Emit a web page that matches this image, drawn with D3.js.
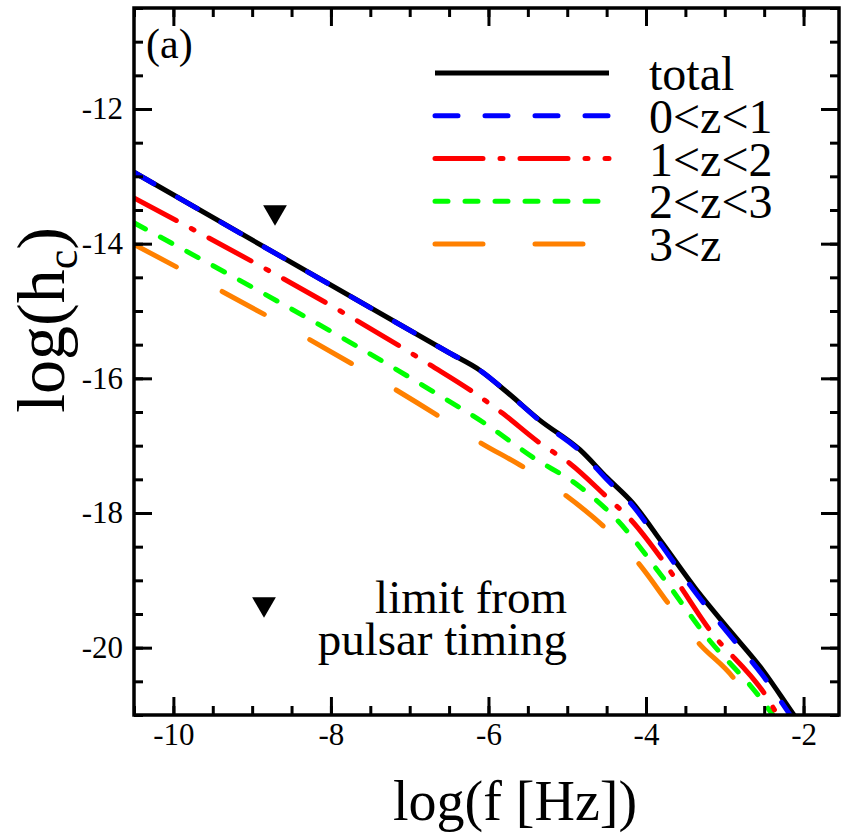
<!DOCTYPE html>
<html>
<head>
<meta charset="utf-8">
<script src="https://cdn.jsdelivr.net/npm/d3@7"></script>
<style>
  html, body { margin: 0; padding: 0; background: #fff; }
  svg { display: block; }
  text { font-family: "Liberation Serif", "Times New Roman", serif; fill: #000; }
</style>
</head>
<body>
<svg id="chart" width="842" height="838"></svg>
<script>
// ---------------- data ----------------
const seriesNames = ["total", "0<z<1", "1<z<2", "2<z<3", "3<z"];

const logfTotal = [-10.5, -6.5, -6.11, -5.77, -5.35, -4.84, -4.50, -4.17, -3.79, -3.36, -2.94, -2.52, -2.14, -2.05];
const loghTotal = [-12.94, -15.62, -15.88, -16.20, -16.62, -17.06, -17.47, -17.85, -18.45, -19.14, -19.74, -20.33, -20.97, -21.12];

const logfZ01 = [-10.5, -6.5, -6.11, -5.77, -5.35, -4.84, -4.50, -4.17, -3.79, -3.36, -2.94, -2.52, -2.14, -2.05];
const loghZ01 = [-12.94, -15.62, -15.88, -16.20, -16.63, -17.08, -17.50, -17.89, -18.50, -19.20, -19.81, -20.41, -21.05, -21.2];

const logfZ12 = [-10.5, -6.74, -6.20, -5.82, -5.35, -4.97, -4.50, -4.17, -3.79, -3.19, -2.47, -2.33, -2.25];
const loghZ12 = [-13.32, -15.80, -16.20, -16.52, -16.96, -17.26, -17.76, -18.13, -18.70, -19.74, -20.73, -21.0, -21.15];

const logfZ23 = [-10.5, -6.74, -6.02, -5.44, -4.84, -4.37, -3.79, -3.23, -2.56, -2.39, -2.3];
const loghZ23 = [-13.69, -16.17, -16.69, -17.17, -17.61, -18.10, -18.95, -19.84, -20.73, -21.0, -21.15];

const logfZ3 = [-10.5, -6.62, -6.11, -5.54, -5.03, -4.52, -4.10, -3.70, -3.34, -2.87, -2.59, -2.5];
const loghZ3 = [-14.01, -16.57, -16.95, -17.33, -17.73, -18.22, -18.74, -19.37, -19.92, -20.48, -21.0, -21.15];

// pulsar timing limit (triangle marker)
const pulsarLogf = [-8.71];
const pulsarLogh = [-13.53];

// axes
const xDomain = [-10.5, -1.55];
const yDomain = [-21, -10.5];
const xMajorTicks = [-10, -8, -6, -4, -2];
const yMajorTicks = [-20, -18, -16, -14, -12];
const xMinorTicks = d3.range(-10.5, -1.5, 0.5);
const yMinorTicks = d3.range(-21, -10.4, 0.5);

// ---------------- layout ----------------
const svg = d3.select("#chart");
const L = 134, R = 839, T = 8, B = 715;
const x = d3.scaleLinear().domain(xDomain).range([L, R]);
const y = d3.scaleLinear().domain(yDomain).range([B, T]);

const styles = [
  { color: "#000000", dash: null },
  { color: "#0000ff", dash: "23,27" },
  { color: "#ff0000", dash: "48,17,3,17" },
  { color: "#00ff00", dash: "13,17" },
  { color: "#ff8000", dash: "48,52" }
];

const seriesData = [
  d3.zip(logfTotal, loghTotal),
  d3.zip(logfZ01, loghZ01),
  d3.zip(logfZ12, loghZ12),
  d3.zip(logfZ23, loghZ23),
  d3.zip(logfZ3, loghZ3)
];

svg.append("defs").append("clipPath").attr("id", "clip")
  .append("rect").attr("x", L).attr("y", T).attr("width", R - L).attr("height", B - T);

const line = d3.line().x(d => x(d[0])).y(d => y(d[1])).curve(d3.curveMonotoneX);

const plot = svg.append("g").attr("clip-path", "url(#clip)");
// draw in order: orange, green, red, total, blue
[4, 3, 2, 0, 1].forEach(i => {
  plot.append("path")
    .datum(seriesData[i])
    .attr("d", line)
    .attr("fill", "none")
    .attr("stroke", styles[i].color)
    .attr("stroke-width", 5)
    .attr("stroke-linecap", styles[i].dash ? "round" : "butt")
    .attr("stroke-linejoin", "round")
    .attr("stroke-dasharray", styles[i].dash);
});

// triangle marker
const tri = d3.symbol().type(d3.symbolTriangle).size(245);
svg.selectAll(".pulsar").data(d3.zip(pulsarLogf, pulsarLogh)).join("path")
  .attr("class", "pulsar")
  .attr("d", tri)
  .attr("transform", d => `translate(${x(d[0])},${y(d[1])}) rotate(180)`)
  .attr("fill", "#000");

// ---------------- axes ----------------
function styleAxis(g) {
  g.attr("font-family", null);
  g.select(".domain").remove();
  g.selectAll(".tick line").attr("stroke", "#000").attr("stroke-width", 3);
  g.selectAll("text").style("font-family", '"Liberation Serif", serif').style("font-size", "31px").attr("fill", "#000");
}
// bottom
svg.append("g").attr("transform", `translate(0,${B})`)
  .call(d3.axisBottom(x).tickValues(xMinorTicks).tickSize(-9).tickFormat(""))
  .call(styleAxis);
svg.append("g").attr("transform", `translate(0,${B})`)
  .call(d3.axisBottom(x).tickValues(xMajorTicks).tickSize(-18).tickPadding(8).tickFormat(d => String(d)))
  .call(styleAxis)
  .selectAll("text").attr("dy", "0.71em");
// top
svg.append("g").attr("transform", `translate(0,${T})`)
  .call(d3.axisTop(x).tickValues(xMinorTicks).tickSize(-9).tickFormat(""))
  .call(styleAxis);
svg.append("g").attr("transform", `translate(0,${T})`)
  .call(d3.axisTop(x).tickValues(xMajorTicks).tickSize(-18).tickFormat(""))
  .call(styleAxis);
// left
svg.append("g").attr("transform", `translate(${L},0)`)
  .call(d3.axisLeft(y).tickValues(yMinorTicks).tickSize(-9).tickFormat(""))
  .call(styleAxis);
svg.append("g").attr("transform", `translate(${L},0)`)
  .call(d3.axisLeft(y).tickValues(yMajorTicks).tickSize(-18).tickPadding(11).tickFormat(d => String(d)))
  .call(styleAxis);
// right
svg.append("g").attr("transform", `translate(${R},0)`)
  .call(d3.axisRight(y).tickValues(yMinorTicks).tickSize(-9).tickFormat(""))
  .call(styleAxis);
svg.append("g").attr("transform", `translate(${R},0)`)
  .call(d3.axisRight(y).tickValues(yMajorTicks).tickSize(-18).tickFormat(""))
  .call(styleAxis);

// frame
svg.append("rect").attr("x", L).attr("y", T).attr("width", R - L).attr("height", B - T)
  .attr("fill", "none").attr("stroke", "#000").attr("stroke-width", 3.5);

// axis titles
svg.append("text").attr("x", 515).attr("y", 820)
  .attr("text-anchor", "middle").style("font-size", "56px").text("log(f [Hz])");

const yt = svg.append("text").attr("transform", "translate(64,320) rotate(-90)")
  .attr("text-anchor", "middle").style("font-size", "68px");
yt.append("tspan").text("log(h");
yt.append("tspan").attr("dy", 13).style("font-size", "44px").text("c");
yt.append("tspan").attr("dy", -13).text(")");

// panel label
svg.append("text").attr("x", 146).attr("y", 58).style("font-size", "42px").text("(a)");

// legend
const legX1 = 435, legX2 = 609, legTextX = 649, legY0 = 73, legDy = 42.75;
seriesNames.forEach((name, i) => {
  const yy = legY0 + i * legDy;
  svg.append("line").attr("x1", legX1).attr("x2", legX2).attr("y1", yy).attr("y2", yy)
    .attr("stroke", styles[i].color).attr("stroke-width", 5)
    .attr("stroke-linecap", styles[i].dash ? "round" : "butt")
    .attr("stroke-dasharray", styles[i].dash);
  svg.append("text").attr("x", legTextX).attr("y", yy + 17).style("font-size", "48px").text(name);
});

// pulsar legend
svg.append("path").attr("d", tri).attr("transform", "translate(264,604) rotate(180)").attr("fill", "#000");
svg.append("text").attr("x", 567).attr("y", 613).attr("text-anchor", "end").style("font-size", "47px").text("limit from");
svg.append("text").attr("x", 567).attr("y", 655).attr("text-anchor", "end").style("font-size", "47px").text("pulsar timing");
</script>
</body>
</html>
